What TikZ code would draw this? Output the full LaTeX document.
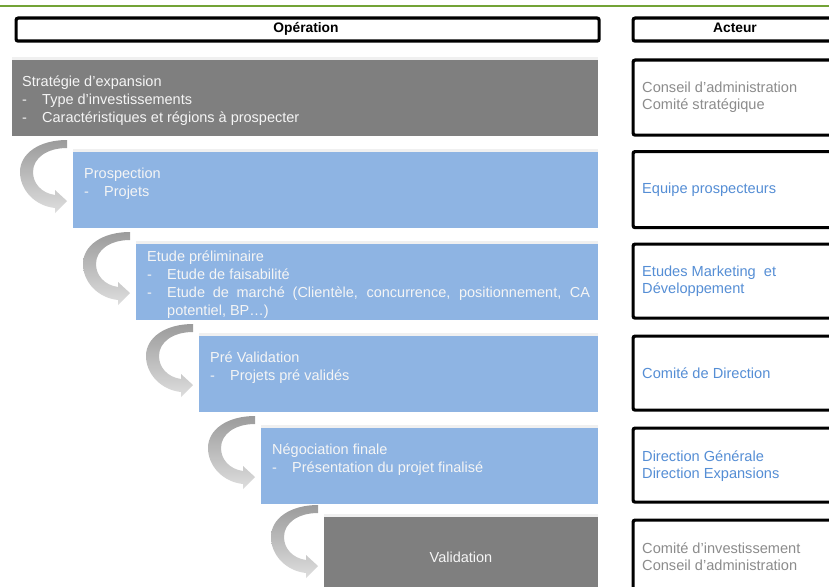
\documentclass[tikz,border=0pt]{standalone}
\usepackage{fontspec}
\setmainfont{Liberation Sans}

\definecolor{rulegreen}{RGB}{115,163,54}
\definecolor{stepgray}{RGB}{127,127,127}
\definecolor{stepblue}{RGB}{142,180,227}
\definecolor{stepedge}{RGB}{240,240,240}
\definecolor{steptext}{RGB}{245,245,245}
\definecolor{actgray}{RGB}{140,140,140}
\definecolor{actblue}{RGB}{85,142,213}
\definecolor{arrdark}{RGB}{155,155,155}
\definecolor{arrlight}{RGB}{222,222,222}

% dash that opens a bulleted line, with a fixed indent
\newcommand\itemdash{\makebox[20pt][l]{-}}

\begin{document}
\begin{tikzpicture}[x=1pt,y=-1pt,
  opbox/.style={draw=none, inner sep=0pt, anchor=north west, minimum height=76pt},
  actbox/.style={draw=black, line width=3.2pt, rounded corners=2pt, fill=white,
                 inner sep=0pt, anchor=north west, minimum width=210pt},
  optext/.style={inner sep=0pt, anchor=base west, text=steptext,
                 font=\fontsize{14.5}{18}\selectfont},
  acttext/.style={inner sep=0pt, anchor=base west,
                 font=\fontsize{14.6}{17.5}\selectfont},
  headtext/.style={inner sep=0pt, anchor=base, font=\fontsize{13.8}{16}\selectfont\bfseries},
  curvarrow/.pic={
    \shade[top color=arrdark, bottom color=arrlight]
      (-6,-12) .. controls (-33,-12) and (-53,1) .. (-53,20)
      .. controls (-53,38) and (-38,54) .. (-18,56)
      -- (-18,61) -- (-6,49) -- (-18,38) -- (-18,43)
      .. controls (-32,41) and (-40,31) .. (-40,20)
      .. controls (-40,6) and (-26,-4) .. (-6,-4) -- cycle;
  }
]
\useasboundingbox (0,0) rectangle (829,586);
\clip (0,0) rectangle (829,586);

% rule across the top
\draw[rulegreen, line width=2.2pt] (0,6) -- (829,6);

% column headers
\node[actbox, minimum width=583pt, minimum height=23pt] (hop) at (14.5,16.5) {};
\node[actbox, minimum height=23pt] (hact) at (631.5,16.5) {};
\node[headtext] (hoptxt) at (306,33) {Opération};
\node[headtext] (hacttxt) at (735,33) {Acteur};

% operation steps
\node[opbox, fill=stepgray, minimum width=586pt] (op1) at (12,60) {};
\node[opbox, fill=stepblue, minimum width=525pt] (op2) at (73,152) {};
\node[opbox, fill=stepblue, minimum width=462pt] (op3) at (136,244) {};
\node[opbox, fill=stepblue, minimum width=399pt] (op4) at (199,336) {};
\node[opbox, fill=stepblue, minimum width=337pt] (op5) at (261,428) {};
\node[opbox, fill=stepgray, minimum width=274pt, minimum height=80pt] (op6) at (324,517) {};

% light edge on top of each step
\foreach \s in {op1,op2,op3,op4,op5,op6}
  \fill[stepedge] ([yshift=3pt]\s.north west) rectangle (\s.north east);

% curved arrows leading into each following step
\foreach \s in {op2,op3,op4,op5,op6}
  \pic at (\s.north west) {curvarrow};

% step texts
\node[optext] (op1txt) at (22,86) {\begin{tabular}[t]{@{}l@{}}
  Stratégie d’expansion\\
  \itemdash Type d’investissements\\
  \itemdash Caractéristiques et régions à prospecter\end{tabular}};
\node[optext] (op2txt) at (84,178) {\begin{tabular}[t]{@{}l@{}}
  Prospection\\
  \itemdash Projets\end{tabular}};
\node[optext] (op3txt) at (147,261) {\begin{tabular}[t]{@{}l@{}}
  Etude préliminaire\\
  \itemdash Etude de faisabilité\\
  \itemdash\makebox[423pt][s]{Etude de marché (Clientèle, concurrence, positionnement, CA}\\
  \hspace*{20pt}potentiel, BP…)\end{tabular}};
\node[optext] (op4txt) at (210,362) {\begin{tabular}[t]{@{}l@{}}
  Pré Validation\\
  \itemdash Projets pré validés\end{tabular}};
\node[optext] (op5txt) at (272,454) {\begin{tabular}[t]{@{}l@{}}
  Négociation finale\\
  \itemdash Présentation du projet finalisé\end{tabular}};
\node[optext, anchor=base] (op6txt) at (461,562) {Validation};

% actor boxes
\node[actbox, minimum height=75pt] (act1) at (631.5,58.5) {};
\node[actbox, minimum height=76pt] (act2) at (631.5,150) {};
\node[actbox, minimum height=74pt] (act3) at (631.5,242.5) {};
\node[actbox, minimum height=74pt] (act4) at (631.5,334.5) {};
\node[actbox, minimum height=74pt] (act5) at (631.5,426.5) {};
\node[actbox, minimum height=80pt] (act6) at (631.5,518.5) {};

% actor texts
\node[acttext, text=actgray] (act1txt) at (642,92) {\begin{tabular}[t]{@{}l@{}}
  Conseil d’administration\\Comité stratégique\end{tabular}};
\node[acttext, text=actblue] (act2txt) at (642,193) {Equipe prospecteurs};
\node[acttext, text=actblue] (act3txt) at (642,276) {\begin{tabular}[t]{@{}l@{}}
  Etudes Marketing\ \ et\\Développement\end{tabular}};
\node[acttext, text=actblue] (act4txt) at (642,378) {Comité de Direction};
\node[acttext, text=actblue] (act5txt) at (642,461) {\begin{tabular}[t]{@{}l@{}}
  Direction Générale\\Direction Expansions\end{tabular}};
\node[acttext, text=actgray] (act6txt) at (642,553) {\begin{tabular}[t]{@{}l@{}}
  Comité d’investissement\\Conseil d’administration\end{tabular}};
\end{tikzpicture}
\end{document}
